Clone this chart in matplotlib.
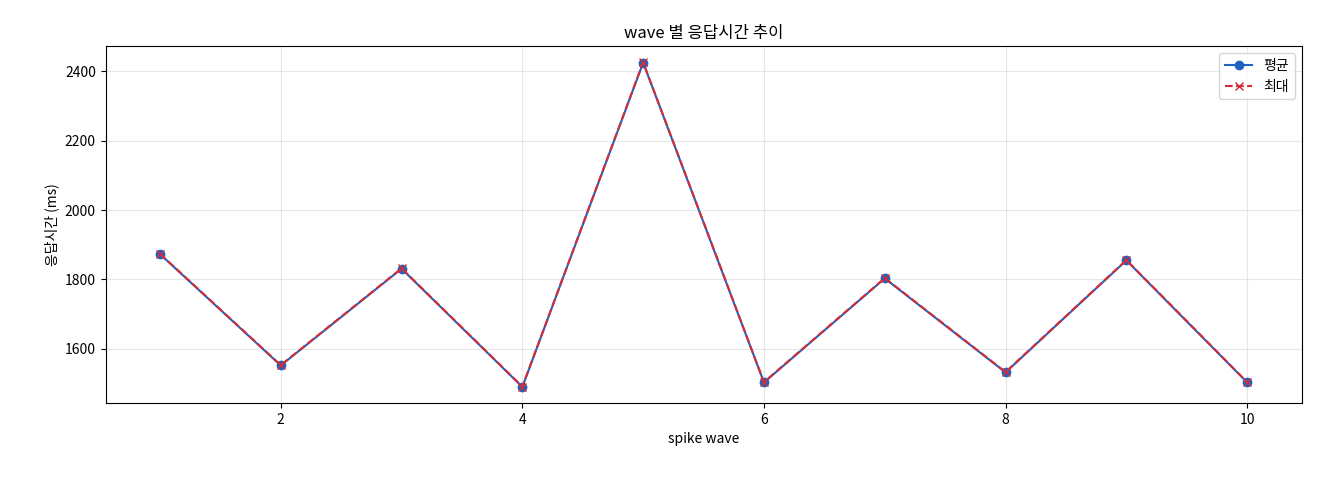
import matplotlib
matplotlib.use("Agg")
import matplotlib.pyplot as plt

plt.rcParams['font.family'] = ['Noto Sans CJK KR', 'DejaVu Sans']

waves = [1, 2, 3, 4, 5, 6, 7, 8, 9, 10]
avg_ms = [1873, 1552, 1831, 1490, 2425, 1503, 1803, 1532, 1855, 1503]
max_ms = [1874, 1553, 1832, 1491, 2426, 1504, 1804, 1533, 1856, 1504]

fig, ax = plt.subplots(figsize=(13.2, 4.8), dpi=100)
ax.plot(waves, avg_ms, marker='o', color='#1f62c0', linewidth=1.5, label='평균')
ax.plot(waves, max_ms, marker='x', linestyle='--', color='#d62c36', linewidth=1.5, label='최대')

ax.set_title('wave 별 응답시간 추이')
ax.set_xlabel('spike wave')
ax.set_ylabel('응답시간 (ms)')
ax.grid(True, alpha=0.3)
ax.legend(loc='upper right')

fig.subplots_adjust(left=0.08, right=0.986, top=0.904, bottom=0.16)
plt.savefig('out.png')
plt.close(fig)
